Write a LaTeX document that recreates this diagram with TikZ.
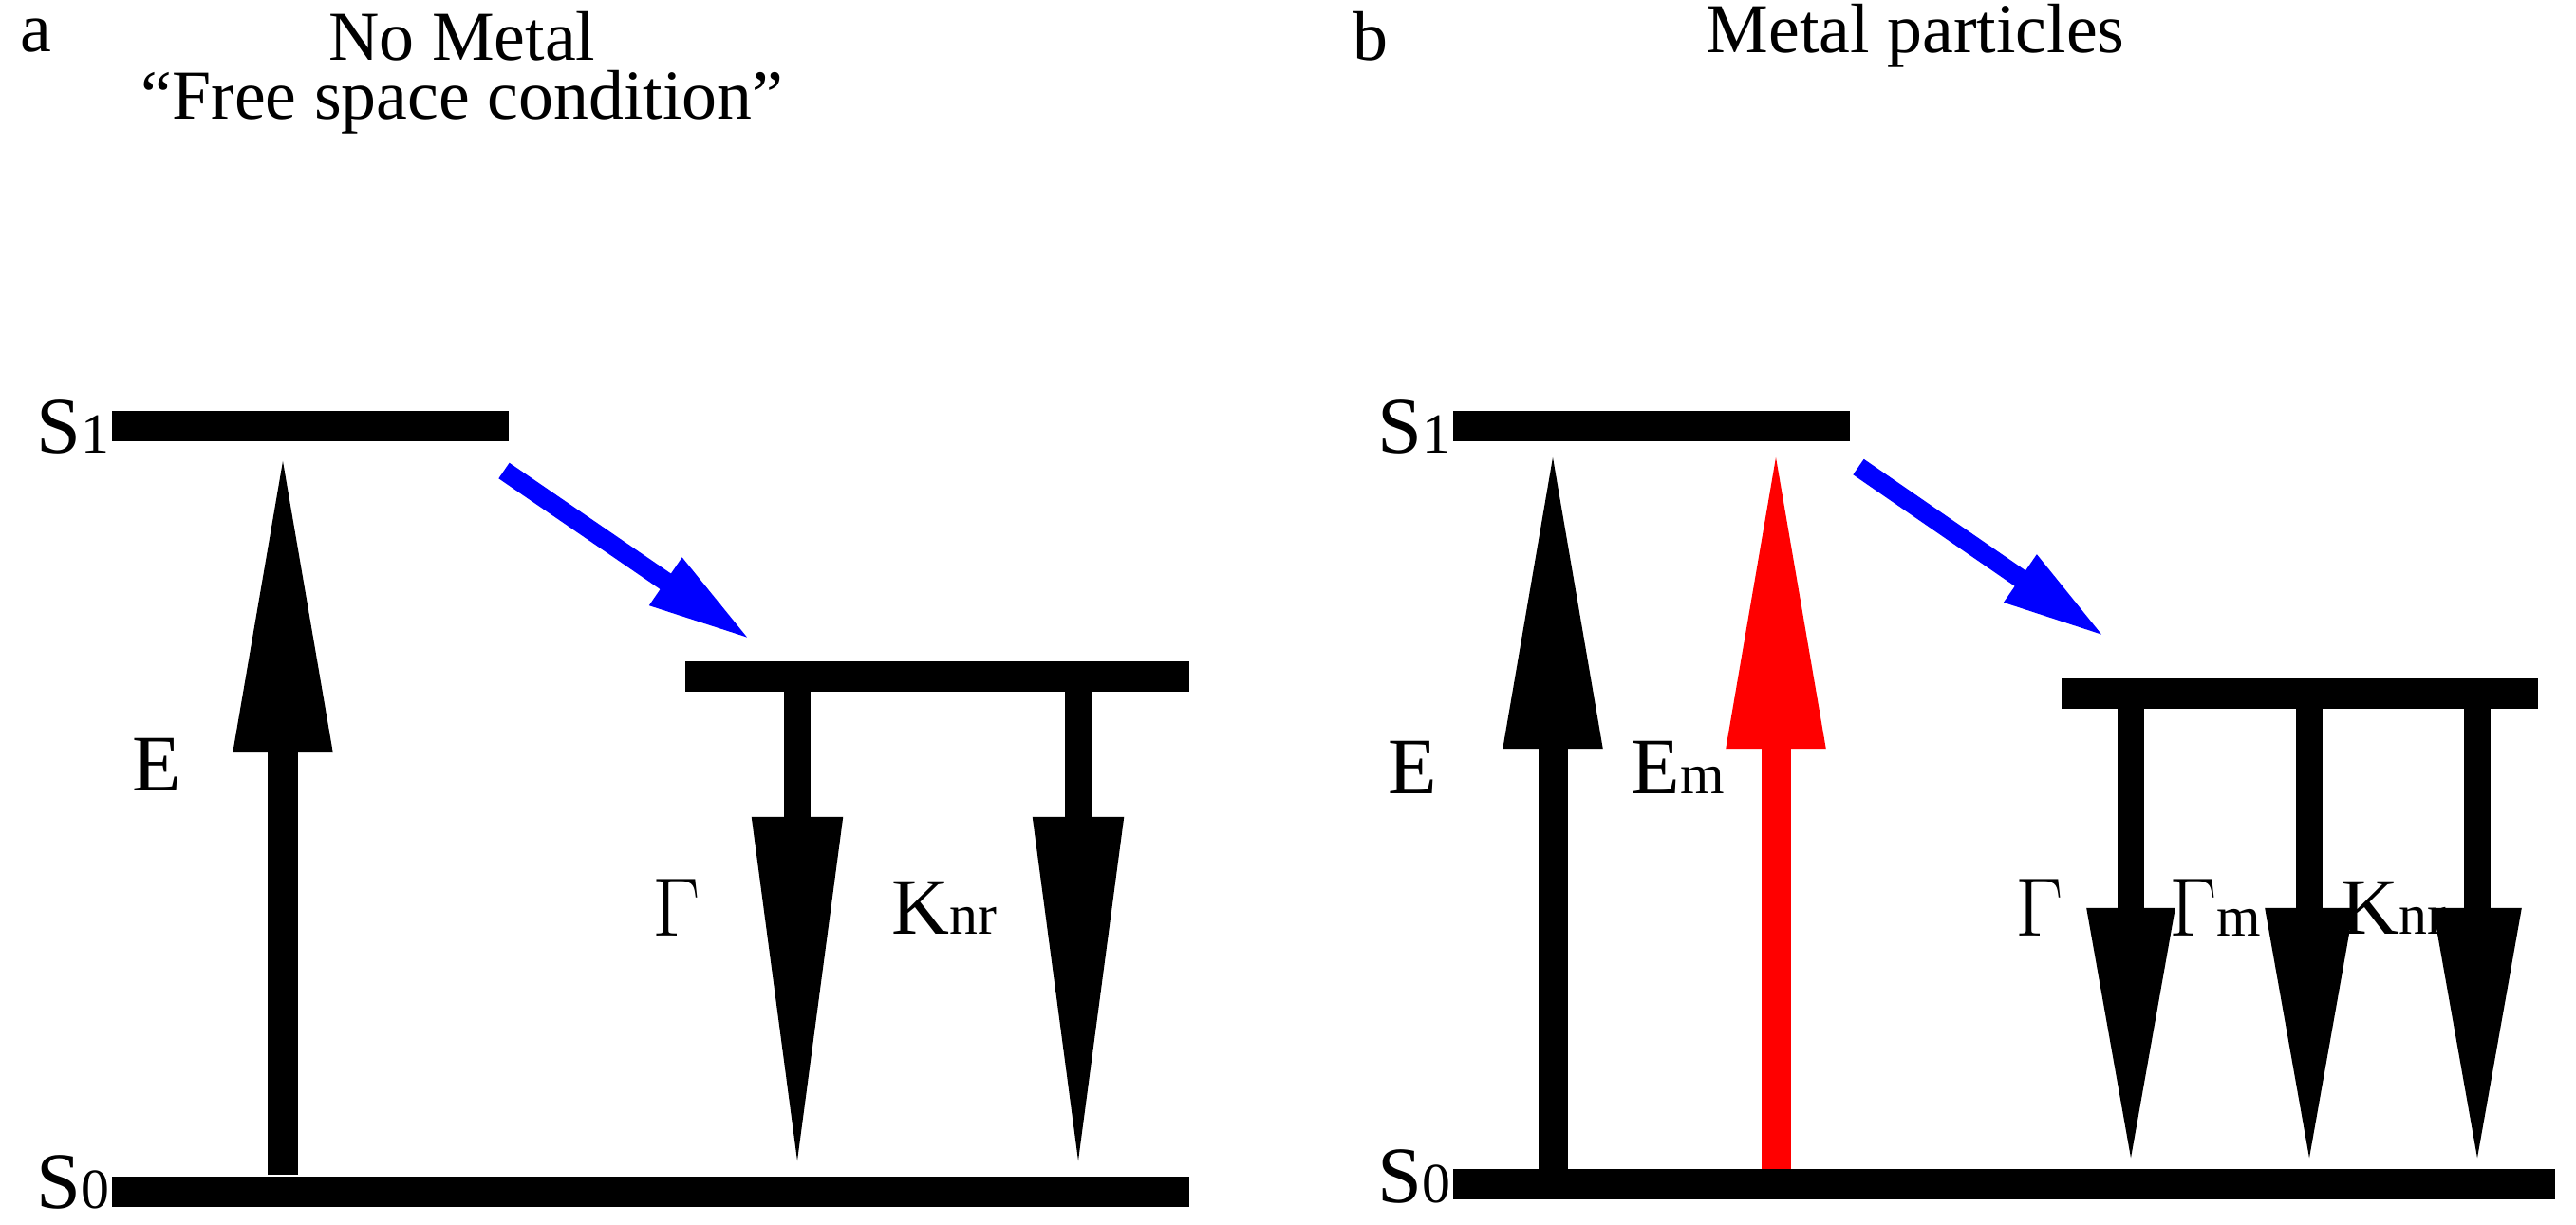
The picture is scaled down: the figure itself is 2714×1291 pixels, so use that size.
\documentclass[tikz,border=0pt]{standalone}
\usepackage{fontspec}
\setmainfont{Liberation Serif}
\usetikzlibrary{arrows.meta}
\begin{document}
\begin{tikzpicture}[x=0.01cm,y=-0.01cm,
  level/.style={line width=0.31cm},
  up/.style={line width=0.31cm,-{Triangle[width=0.96cm,length=3.2cm]}},
  down/.style={line width=0.28cm,-{Triangle[width=0.88cm,length=3.77cm]}},
  downb/.style={line width=0.28cm,-{Triangle[width=0.85cm,length=2.75cm]}},
  transfer/.style={blue,line width=0.2cm,-{Triangle[width=0.55cm,length=1.1cm]}},
  lbl/.style={font=\fontsize{24}{28}\selectfont,inner sep=0pt},
  ttl/.style={font=\fontsize{21}{25}\selectfont,inner sep=0pt}]
\useasboundingbox (0,0) rectangle (2714,1291);
\newcommand{\sm}[1]{{\fontsize{17}{17}\selectfont #1}}
% ---- panel a
\node[ttl] (la) at (38,38) {a};
\node[ttl] (ta) at (487,38) {No Metal};
\node[ttl] (tb) at (487,108) {``Free space condition''};
\draw[level] (118,449) coordinate (a1l) -- (536,449) coordinate (a1r);
\draw[level] (118,1256) coordinate (a0l) -- (1253,1256) coordinate (a0r);
\draw[level] (722,713) coordinate (aml) -- (1253,713) coordinate (amr);
\node[lbl,anchor=east] (aS1) at (116,450) {S\sm{1}};
\node[lbl,anchor=east] (aS0) at (116,1246) {S\sm{0}};
\coordinate (aEb) at (298,1238); \coordinate (aEt) at (298,473);
\draw[up] (aEb) -- (aEt);
\coordinate (aGt) at (840,727); \coordinate (aGb) at (840,1238);
\draw[down] (aGt) -- (aGb);
\coordinate (aKt) at (1136,727); \coordinate (aKb) at (1136,1238);
\draw[down] (aKt) -- (aKb);
\coordinate (aBs) at (531,496); \coordinate (aBe) at (792,675);
\draw[transfer] (aBs) -- (aBe);
\node[lbl] (aE) at (165,806) {E};
\node[lbl] (aG) at (713,957) {$\Gamma$};
\node[lbl] (aK) at (995,957) {K\sm{nr}};
% ---- panel b
\node[ttl] (lb) at (1444,38) {b};
\node[ttl] (tmp) at (2018,38) {Metal particles};
\draw[level] (1531,449) coordinate (b1l) -- (1949,449) coordinate (b1r);
\draw[level] (1531,1248) coordinate (b0l) -- (2692,1248) coordinate (b0r);
\draw[level] (2172,731) coordinate (bml) -- (2674,731) coordinate (bmr);
\node[lbl,anchor=east] (bS1) at (1529,450) {S\sm{1}};
\node[lbl,anchor=east] (bS0) at (1529,1240) {S\sm{0}};
\coordinate (bEb) at (1636,1232); \coordinate (bEt) at (1636,469);
\draw[up] (bEb) -- (bEt);
\coordinate (bRb) at (1871,1232); \coordinate (bRt) at (1871,469);
\draw[up,red] (bRb) -- (bRt);
\foreach \x/\n in {2245/1,2433/2,2610/3}{
  \coordinate (bt\n) at (\x,745); \coordinate (bb\n) at (\x,1232);
  \draw[downb] (bt\n) -- (bb\n);
}
\coordinate (bBs) at (1958,492); \coordinate (bBe) at (2219,672);
\draw[transfer] (bBs) -- (bBe);
\node[lbl] (bE) at (1488,809) {E};
\node[lbl] (bEm) at (1768,809) {E\sm{m}};
\node[lbl] (bG) at (2149,957) {$\Gamma$};
\node[lbl] (bGm) at (2334,957) {$\Gamma$\sm{m}};
\node[lbl] (bK) at (2522,957) {K\sm{nr}};
\end{tikzpicture}
\end{document}
